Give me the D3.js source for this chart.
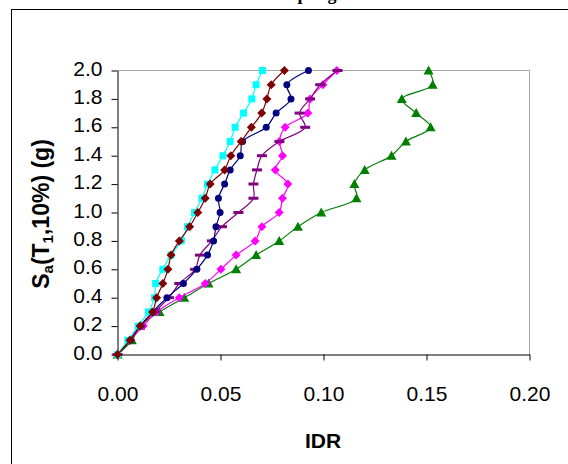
<!DOCTYPE html>
<html><head><meta charset="utf-8">
<script src="https://cdn.jsdelivr.net/npm/d3@7"></script>
<style>body{margin:0;background:#fff;overflow:hidden}</style></head>
<body>
<svg id="chart" width="568" height="464"></svg>
<script>
const saLevels = [0,0.1,0.2,0.3,0.4,0.5,0.6,0.7,0.8,0.9,1.0,1.1,1.2,1.3,1.4,1.5,1.6,1.7,1.8,1.9,2.0];
const idrGreen   = [0,0.007,0.011,0.0204,0.0324,0.0442,0.0576,0.0673,0.0785,0.0876,0.0989,0.116,0.115,0.120,0.133,0.140,0.152,0.145,0.138,0.153,0.151];
const idrMagenta = [0,0.006,0.0125,0.019,0.030,0.0426,0.0502,0.0576,0.0668,0.0701,0.0785,0.0801,0.0827,0.0766,0.0801,0.0786,0.0814,0.0924,0.0935,0.0997,0.1065];
const idrPurple  = [0,0.006,0.011,0.018,0.025,0.030,0.0377,0.040,0.0458,0.0507,0.0587,0.066,0.066,0.0677,0.0701,0.0786,0.0911,0.0884,0.0935,0.0984,0.1068];
const idrNavy    = [0,0.006,0.011,0.017,0.024,0.032,0.0385,0.0437,0.0466,0.0478,0.0498,0.049,0.052,0.0547,0.0596,0.0607,0.0722,0.077,0.0842,0.0822,0.0927];
const idrCyan    = [0,0.005,0.010,0.015,0.018,0.0185,0.022,0.026,0.031,0.034,0.0374,0.041,0.0437,0.0473,0.0512,0.0547,0.0571,0.0612,0.0652,0.0673,0.0704];
const idrDarkRed = [0,0.006,0.011,0.017,0.019,0.022,0.0245,0.026,0.030,0.035,0.039,0.0426,0.045,0.052,0.055,0.060,0.065,0.070,0.0725,0.0746,0.081];
const xTicks = [0,0.05,0.10,0.15,0.20];
const yTicks = [0,0.2,0.4,0.6,0.8,1.0,1.2,1.4,1.6,1.8,2.0];

const series = [
  {x: idrGreen,   color: "#008000", marker: "triangle"},
  {x: idrMagenta, color: "#FF00FF", marker: "diamond"},
  {x: idrPurple,  color: "#800080", marker: "dash"},
  {x: idrNavy,    color: "#000080", marker: "circle"},
  {x: idrCyan,    color: "#00FFFF", marker: "square"},
  {x: idrDarkRed, color: "#800000", marker: "diamond"}
];

const svg = d3.select("#chart");
const x = d3.scaleLinear().domain([0,0.2]).range([117.5,529.5]);
const y = d3.scaleLinear().domain([0,2]).range([354.5,70.5]);

// outer frame
svg.append("rect").attr("x",11.5).attr("y",9.5).attr("width",600).attr("height",500)
  .attr("fill","none").attr("stroke","#000").attr("stroke-width",1);

// partially visible title (cut off at the top edge, as in the reference)
svg.append("text").attr("x",300).attr("y",0).attr("text-anchor","middle")
  .attr("font-family","Liberation Serif, Times New Roman, serif").attr("font-weight","bold")
  .attr("font-size",18).text("Sampling");

// plot border (gray top & right)
svg.append("path").attr("d",`M${x(0)},${y(2)}H${x(0.2)}V${y(0)}`)
  .attr("fill","none").attr("stroke","#a6a6a6").attr("stroke-width",1);

const fontFam = "Liberation Sans, Arial, sans-serif";

// x axis
const gx = svg.append("g").attr("transform",`translate(0,${y(0)})`)
  .call(d3.axisBottom(x).tickValues(xTicks).tickFormat(d3.format(".2f")).tickSize(6).tickSizeOuter(0));
gx.select(".domain").attr("stroke","#000");
gx.selectAll(".tick line").attr("stroke","#000");
gx.selectAll(".tick text").attr("font-family",fontFam).attr("font-size",21).attr("fill","#000")
  .attr("y",0).attr("dy",null).attr("transform","translate(0,46)");

// y axis
const gy = svg.append("g").attr("transform",`translate(${x(0)},0)`)
  .call(d3.axisLeft(y).tickValues(yTicks).tickFormat(d3.format(".1f")).tickSize(6).tickSizeOuter(0));
gy.select(".domain").attr("stroke","#000");
gy.selectAll(".tick line").attr("stroke","#000");
gy.selectAll(".tick text").attr("font-family",fontFam).attr("font-size",21).attr("fill","#000")
  .attr("x",-15).attr("dy",null).attr("y",4.5);

// axis titles
svg.append("text").attr("x",323).attr("y",448).attr("text-anchor","middle")
  .attr("font-family",fontFam).attr("font-weight","bold").attr("font-size",21).text("IDR");

const yt = svg.append("text").attr("transform","translate(49,214) rotate(-90)")
  .attr("text-anchor","middle").attr("font-family",fontFam).attr("font-weight","bold").attr("font-size",23);
yt.append("tspan").text("S");
yt.append("tspan").attr("font-size",15).attr("dy",4).text("a");
yt.append("tspan").attr("dy",-4).text("(T");
yt.append("tspan").attr("font-size",15).attr("dy",4).text("1");
yt.append("tspan").attr("dy",-4).text(",10%) (g)");

// lines + markers
const line = d3.line().curve(d3.curveCatmullRom.alpha(0.5));
function markerPath(type, cx, cy){
  switch(type){
    case "square": return `M${cx-3.5},${cy-3.5}h7v7h-7Z`;
    case "diamond": return `M${cx},${cy-4.5}L${cx+4.5},${cy}L${cx},${cy+4.5}L${cx-4.5},${cy}Z`;
    case "triangle": return `M${cx},${cy-5}L${cx+5},${cy+4}L${cx-5},${cy+4}Z`;
    case "dash": return `M${cx-5},${cy-1.5}h10v3h-10Z`;
    case "circle": return `M${cx-3.5},${cy}a3.5,3.5 0 1,0 7,0a3.5,3.5 0 1,0 -7,0Z`;
  }
}
series.forEach(s=>{
  const pts = saLevels.map((v,i)=>[x(s.x[i]), y(v)]);
  svg.append("path").attr("d",line(pts)).attr("fill","none").attr("stroke",s.color).attr("stroke-width",1.2);
  svg.append("g").selectAll("path").data(pts).join("path")
    .attr("d",d=>markerPath(s.marker,d[0],d[1])).attr("fill",s.color).attr("stroke","none");
});
</script>
</body></html>
